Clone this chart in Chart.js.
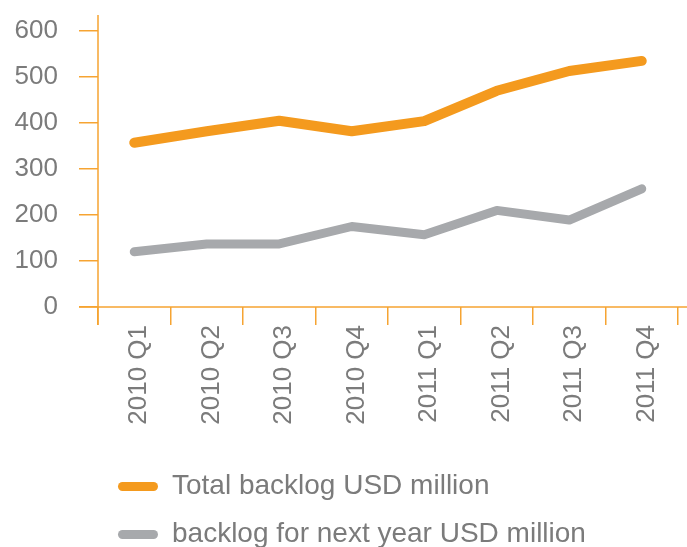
<!DOCTYPE html>
<html>
<head>
<meta charset="utf-8">
<script src="https://cdn.jsdelivr.net/npm/chart.js@4/dist/chart.umd.min.js"></script>
<style>
  html, body { margin: 0; padding: 0; background: #fff; }
  #wrap { width: 687px; height: 547px; position: relative; }
</style>
</head>
<body>
<div id="wrap"><canvas id="backlogChart"></canvas></div>
<script>
const quarters = ['2010 Q1', '2010 Q2', '2010 Q3', '2010 Q4', '2011 Q1', '2011 Q2', '2011 Q3', '2011 Q4'];
const totalBacklog = [357, 382, 405, 382, 404, 470, 513, 535];
const nextYearBacklog = [120, 137, 137, 175, 157, 210, 189, 257];
const seriesNames = ['Total backlog USD million', 'backlog for next year USD million'];
const yTicks = [0, 100, 200, 300, 400, 500, 600];

const ORANGE = '#f49a1e';
const AXIS_ORANGE = '#f6a432';
const GREY = '#a7a9ac';
const TEXT = '#7b7b7b';
const FONT = "'Liberation Sans', Arial, Helvetica, sans-serif";

// axis lines run a bit past the plot area on both ends
const axisLines = {
  id: 'axisLines',
  beforeDatasetsDraw(chart) {
    const { ctx, chartArea } = chart;
    ctx.save();
    ctx.strokeStyle = AXIS_ORANGE;
    ctx.lineWidth = 1.5;
    ctx.beginPath();
    ctx.moveTo(chartArea.left, chartArea.top - 16);
    ctx.lineTo(chartArea.left, chartArea.bottom + 18);
    ctx.moveTo(chartArea.left - 19, chartArea.bottom);
    ctx.lineTo(chart.width, chartArea.bottom);
    ctx.stroke();
    ctx.restore();
  }
};

new Chart(document.getElementById('backlogChart'), {
  type: 'line',
  data: {
    labels: quarters,
    datasets: [{
      label: seriesNames[0],
      data: totalBacklog,
      borderColor: ORANGE,
      backgroundColor: ORANGE,
      borderWidth: 10
    }, {
      label: seriesNames[1],
      data: nextYearBacklog,
      borderColor: GREY,
      backgroundColor: GREY,
      borderWidth: 9
    }]
  },
  options: {
    responsive: true,
    maintainAspectRatio: false,
    animation: false,
    layout: { padding: { top: 31, right: 9, left: 0, bottom: 0 } },
    elements: {
      line: { tension: 0, borderCapStyle: 'round', borderJoinStyle: 'round', fill: false },
      point: { radius: 0, hoverRadius: 0 }
    },
    scales: {
      x: {
        type: 'category',
        offset: true,
        grid: { offset: true, drawOnChartArea: false, tickLength: 18, color: AXIS_ORANGE, lineWidth: 1.5 },
        border: { display: false },
        ticks: { minRotation: 90, maxRotation: 90, padding: 0, labelOffset: 5, color: TEXT, font: { family: FONT, size: 26 } },
        afterFit(scale) { scale.height = 145.5; }
      },
      y: {
        min: 0,
        max: 600,
        afterBuildTicks(scale) { scale.ticks = yTicks.map(v => ({ value: v })); },
        grid: { drawOnChartArea: false, tickLength: 19, color: AXIS_ORANGE, lineWidth: 1.5 },
        border: { display: false },
        ticks: { padding: 21, color: TEXT, font: { family: FONT, size: 26 } },
        afterFit(scale) {
          scale.width = 98;
          // keep the label padding from pushing the plot area down
          scale.paddingTop = 10;
          scale.paddingBottom = 10;
        }
      }
    },
    plugins: {
      tooltip: { enabled: false },
      legend: {
        position: 'bottom',
        align: 'start',
        fullSize: false,
        maxHeight: 94.5,
        labels: {
          boxWidth: 40,
          boxHeight: 9,
          padding: 20,
          color: TEXT,
          font: { family: FONT, size: 28 },
          useBorderRadius: true,
          borderRadius: 4.5,
          generateLabels(chart) {
            return chart.data.datasets.map((ds, i) => ({
              text: ds.label,
              fillStyle: ds.borderColor,
              strokeStyle: ds.borderColor,
              lineWidth: 0,
              borderRadius: 4.5,
              fontColor: TEXT,
              datasetIndex: i,
              hidden: false
            }));
          }
        }
      }
    }
  },
  plugins: [axisLines]
});
</script>
</body>
</html>
